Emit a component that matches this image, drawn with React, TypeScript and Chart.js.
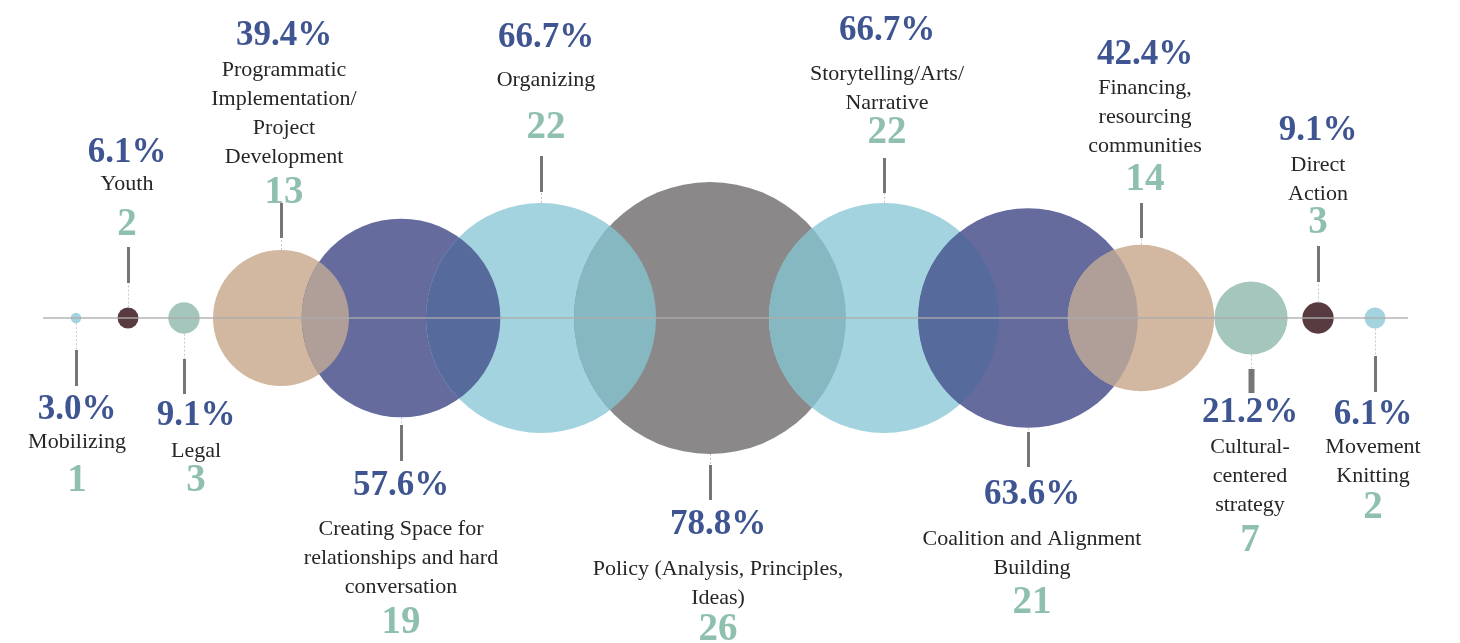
import React, { useEffect, useRef } from "react";
import { Chart, registerables } from "chart.js";

Chart.register(...registerables);

// ---------------- data ----------------
const categories: string[][] = [
  ["Mobilizing"],
  ["Youth"],
  ["Legal"],
  ["Programmatic", "Implementation/", "Project", "Development"],
  ["Creating Space for", "relationships and hard", "conversation"],
  ["Organizing"],
  ["Policy (Analysis, Principles,", "Ideas)"],
  ["Storytelling/Arts/", "Narrative"],
  ["Coalition and Alignment", "Building"],
  ["Financing,", "resourcing", "communities"],
  ["Cultural-", "centered", "strategy"],
  ["Direct", "Action"],
  ["Movement", "Knitting"],
];
const counts = [1, 2, 3, 13, 19, 22, 26, 22, 21, 14, 7, 3, 2];
const percents = ["3.0%", "6.1%", "9.1%", "39.4%", "57.6%", "66.7%", "78.8%", "66.7%", "63.6%", "42.4%", "21.2%", "9.1%", "6.1%"];
const positions = [76, 128, 184, 281, 401, 541, 710, 884, 1028, 1141, 1251, 1318, 1375];
const sides = ["below", "above", "below", "above", "below", "above", "below", "above", "below", "above", "below", "above", "below"];

// ---------------- styles / layout ----------------
const RADIUS_PER_COUNT = 5.23;
const bubbleColors = ["#a2d3df", "#583a41", "#a4c6bc", "#d2b8a0", "#666b9e", "#a2d3df", "#8a8889", "#a2d3df", "#666b9e", "#d2b8a0", "#a4c6bc", "#583a41", "#a2d3df"];
const overlapColors = ["", "", "", "#b09e98", "#566a9c", "#86b8c2", "#86b8c2", "#566a9c", "#b09e98", "", "", ""];
// per item: stem start distance from axis, stem length, stem width, text offsets (pct, first name line, count), x shift
const labelLayout = [
  { stemStart: 32, stemLen: 36, stemW: 3, pct: 89, name: 122, count: 160, dx: 1 },
  { stemStart: 35, stemLen: 36, stemW: 3, pct: -168, name: -136, count: -96, dx: -1 },
  { stemStart: 41, stemLen: 35, stemW: 3, pct: 95, name: 131, count: 160, dx: 12 },
  { stemStart: 80, stemLen: 35, stemW: 3, pct: -285, name: -250, count: -128, dx: 3 },
  { stemStart: 107, stemLen: 36, stemW: 3, pct: 165, name: 209, count: 302, dx: 0 },
  { stemStart: 126, stemLen: 36, stemW: 3, pct: -283, name: -240, count: -193, dx: 5 },
  { stemStart: 147, stemLen: 35, stemW: 3, pct: 204, name: 249, count: 309, dx: 8 },
  { stemStart: 125, stemLen: 35, stemW: 3, pct: -290, name: -246, count: -188, dx: 3 },
  { stemStart: 114, stemLen: 35, stemW: 3, pct: 174, name: 219, count: 282, dx: 4 },
  { stemStart: 80, stemLen: 35, stemW: 3, pct: -266, name: -232, count: -141, dx: 4 },
  { stemStart: 51, stemLen: 24, stemW: 6, pct: 92, name: 127, count: 220, dx: -1 },
  { stemStart: 36, stemLen: 36, stemW: 3, pct: -190, name: -155, count: -98, dx: 0 },
  { stemStart: 38, stemLen: 36, stemW: 3, pct: 94, name: 127, count: 187, dx: -2 },
];
const LINE_H = 29;
const TEXT_SHIFT = 2.5;
const AXIS_FROM = 43;
const AXIS_TO = 1408;
const FONT = '"Liberation Serif", "Times New Roman", serif';

const decorPlugin = {
  id: "decor",
  afterDatasetsDraw(chart: any) {
    const ctx = chart.ctx as CanvasRenderingContext2D;
    const els = chart.getDatasetMeta(0).data as any[];
    const xs = chart.scales.x;
    const baseY = chart.scales.y.getPixelForValue(0);

    // overlap lenses
    for (let i = 0; i < els.length - 1; i++) {
      const a = els[i];
      const b = els[i + 1];
      const ra = a.options.radius;
      const rb = b.options.radius;
      if (!overlapColors[i]) continue;
      if (Math.hypot(a.x - b.x, a.y - b.y) >= ra + rb) continue;
      ctx.save();
      ctx.beginPath();
      ctx.arc(a.x, a.y, ra, 0, Math.PI * 2);
      ctx.clip();
      ctx.beginPath();
      ctx.arc(b.x, b.y, rb, 0, Math.PI * 2);
      ctx.fillStyle = overlapColors[i];
      ctx.fill();
      ctx.restore();
    }

    // axis line
    ctx.save();
    ctx.strokeStyle = "rgba(172,172,172,0.9)";
    ctx.lineWidth = 1.5;
    ctx.beginPath();
    ctx.moveTo(xs.getPixelForValue(AXIS_FROM), baseY);
    ctx.lineTo(xs.getPixelForValue(AXIS_TO), baseY);
    ctx.stroke();
    ctx.restore();

    // stems and labels
    els.forEach((el: any, i: number) => {
      const L = labelLayout[i];
      const dir = sides[i] === "below" ? 1 : -1;
      const r = el.options.radius;
      const x = Math.round(el.x) + 0.5;
      ctx.save();
      if (L.stemStart > r) {
        ctx.strokeStyle = "#c8c8c8";
        ctx.lineWidth = 1;
        ctx.setLineDash([2, 2]);
        ctx.beginPath();
        ctx.moveTo(x, baseY + dir * r);
        ctx.lineTo(x, baseY + dir * L.stemStart);
        ctx.stroke();
        ctx.setLineDash([]);
      }
      ctx.strokeStyle = "#767676";
      ctx.lineWidth = L.stemW;
      ctx.beginPath();
      ctx.moveTo(x, baseY + dir * L.stemStart);
      ctx.lineTo(x, baseY + dir * (L.stemStart + L.stemLen));
      ctx.stroke();

      const tx = el.x + L.dx;
      const ty = baseY + TEXT_SHIFT;
      ctx.textAlign = "center";
      ctx.textBaseline = "middle";
      ctx.fillStyle = "#3f5592";
      ctx.font = `bold 35px ${FONT}`;
      ctx.fillText(percents[i], tx, ty + L.pct);
      ctx.fillStyle = "#262626";
      ctx.font = `22px ${FONT}`;
      categories[i].forEach((line, k) => {
        ctx.fillText(line, tx, ty + L.name + k * LINE_H);
      });
      ctx.fillStyle = "#8fc0ae";
      ctx.font = `bold 39px ${FONT}`;
      ctx.fillText(String(counts[i]), tx, ty + L.count);
      ctx.restore();
    });
  },
};

export default function App() {
  const ref = useRef<HTMLCanvasElement | null>(null);
  useEffect(() => {
    if (!ref.current) return;
    const chart = new Chart(ref.current, {
      type: "bubble",
      data: {
        labels: categories.map((c) => c.join(" ")),
        datasets: [
          {
            data: positions.map((p, i) => ({ x: p, y: 0, r: counts[i] * RADIUS_PER_COUNT })),
            backgroundColor: bubbleColors,
            borderWidth: 0,
            hoverBorderWidth: 0,
          },
        ],
      },
      options: {
        responsive: false,
        animation: false,
        devicePixelRatio: 1,
        events: [],
        layout: { padding: 0, autoPadding: false },
        plugins: { legend: { display: false }, tooltip: { enabled: false } },
        scales: {
          x: { type: "linear", min: 0, max: 1460, display: false },
          y: { type: "linear", min: -325, max: 318, display: false },
        },
        clip: false as any,
      },
      plugins: [decorPlugin],
    });
    return () => chart.destroy();
  }, []);
  return (
    <div style={{ position: "absolute", left: 0, top: 0, width: 1460, height: 643, background: "#fff" }}>
      <canvas ref={ref} width={1460} height={643} style={{ display: "block" }} />
    </div>
  );
}
